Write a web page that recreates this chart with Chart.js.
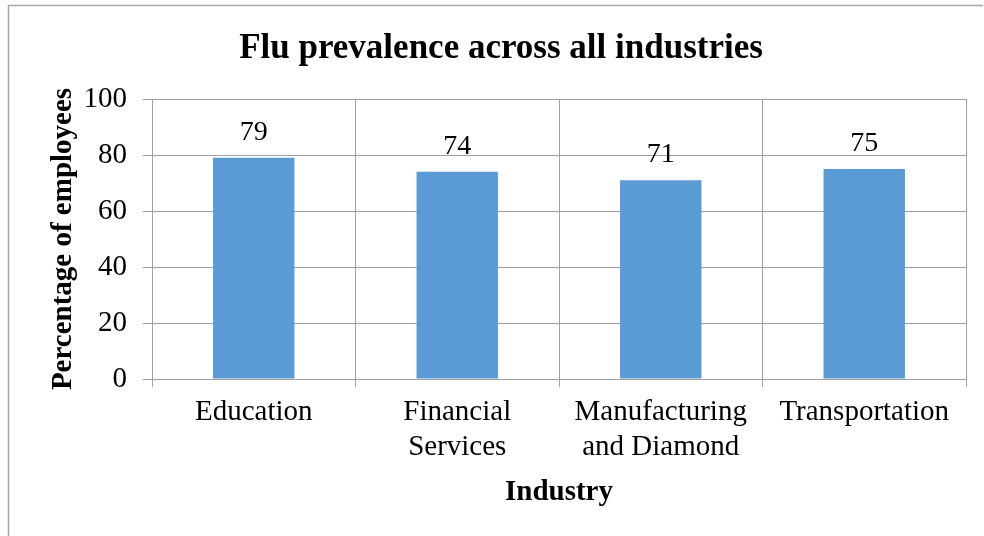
<!DOCTYPE html>
<html>
<head>
<meta charset="utf-8">
<script src="https://cdn.jsdelivr.net/npm/chart.js@4"></script>
<style>
  html, body { margin: 0; padding: 0; background: #ffffff; }
  #wrap { position: relative; width: 984px; height: 536px; }
</style>
</head>
<body>
<div id="wrap"><canvas id="c" width="984" height="536"></canvas></div>
<script>
const categories = [['Education'], ['Financial', 'Services'], ['Manufacturing', 'and Diamond'], ['Transportation']];
const values = [79, 74, 71, 75];
const yTicks = [0, 20, 40, 60, 80, 100];

const FONT = "'Liberation Serif', 'Times New Roman', serif";
const GRID = '#a0a0a0';

const frame = {
  id: 'frame',
  beforeDraw(chart) {
    const ctx = chart.ctx;
    ctx.save();
    ctx.fillStyle = '#ffffff';
    ctx.fillRect(0, 0, chart.width, chart.height);
    ctx.strokeStyle = '#a6a6a6';
    ctx.lineWidth = 1.5;
    ctx.beginPath();
    ctx.moveTo(8.5, chart.height);
    ctx.lineTo(8.5, 5.5);
    ctx.lineTo(983, 5.5);
    ctx.stroke();
    ctx.restore();
  }
};

const valueLabels = {
  id: 'valueLabels',
  afterDatasetsDraw(chart) {
    const ctx = chart.ctx;
    const meta = chart.getDatasetMeta(0);
    ctx.save();
    ctx.font = '28px ' + FONT;
    ctx.fillStyle = '#000000';
    ctx.textAlign = 'center';
    ctx.textBaseline = 'alphabetic';
    meta.data.forEach((bar, i) => {
      ctx.fillText(String(values[i]), bar.x, bar.y - 18);
    });
    ctx.restore();
  }
};

new Chart(document.getElementById('c'), {
  type: 'bar',
  data: {
    labels: categories,
    datasets: [{
      data: values,
      backgroundColor: '#5b9bd5',
      borderWidth: 0,
      categoryPercentage: 0.4,
      barPercentage: 1.0
    }]
  },
  options: {
    responsive: false,
    animation: false,
    devicePixelRatio: 1,
    layout: { padding: { left: 36, right: 18, top: 0, bottom: 0 } },
    plugins: {
      legend: { display: false },
      tooltip: { enabled: false },
      title: {
        display: true,
        text: 'Flu prevalence across all industries',
        color: '#000000',
        font: { family: FONT, size: 35, weight: 'bold', lineHeight: 1.2 },
        padding: { top: 28, bottom: 29 }
      }
    },
    scales: {
      x: {
        type: 'category',
        offset: true,
        grid: {
          display: true,
          offset: true,
          color: GRID,
          lineWidth: 1,
          drawTicks: true,
          tickLength: 8,
          tickColor: GRID
        },
        border: { display: true, color: GRID, width: 1 },
        ticks: {
          color: '#000000',
          font: { family: FONT, size: 29, lineHeight: 1.2 },
          padding: 8,
          maxRotation: 0,
          autoSkip: false
        },
        title: {
          display: true,
          text: 'Industry',
          color: '#000000',
          font: { family: FONT, size: 29, weight: 'bold', lineHeight: 1.2 },
          padding: { top: 4, bottom: 26 }
        },
        afterFit(scale) { scale.height = 157; }
      },
      y: {
        min: 0,
        max: 100,
        afterBuildTicks(scale) { scale.ticks = yTicks.map(v => ({ value: v })); },
        grid: {
          display: true,
          color: GRID,
          lineWidth: 1,
          drawTicks: true,
          tickLength: 9,
          tickColor: GRID
        },
        border: { display: true, color: GRID, width: 1 },
        ticks: {
          color: '#000000',
          font: { family: FONT, size: 29, lineHeight: 1.2 },
          padding: 16
        },
        title: {
          display: true,
          text: 'Percentage of employees',
          color: '#000000',
          font: { family: FONT, size: 29, weight: 'bold', lineHeight: 1.2 },
          padding: { top: 10, bottom: 4 }
        },
        afterFit(scale) { scale.width = 116; }
      }
    }
  },
  plugins: [frame, valueLabels]
});
</script>
</body>
</html>
